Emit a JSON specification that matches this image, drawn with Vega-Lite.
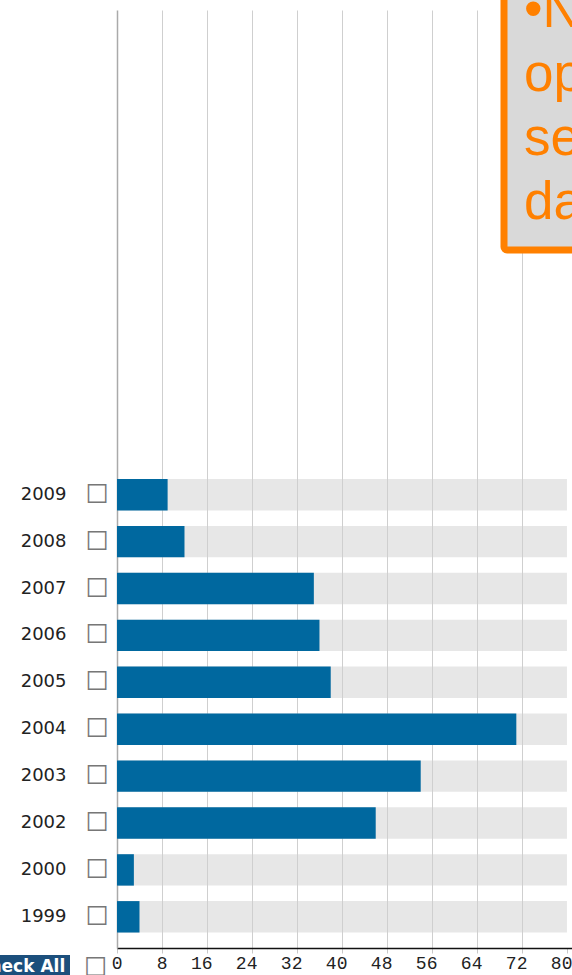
{
  "$schema": "https://vega.github.io/schema/vega-lite/v6.json",
  "autosize": {"type": "none"},
  "padding": {"left": 117, "top": 10, "right": 0, "bottom": 27},
  "width": 455,
  "height": 938,
  "background": "white",
  "config": {
    "view": {"stroke": null},
    "legend": {"strokeWidth": 7},
    "axisX": {
      "grid": true,
      "gridColor": "#cfcfcf",
      "domainColor": "#111111", "domainWidth": 1.5,
      "tickColor": "#c8c8c8", "tickSize": 5,
      "labelFont": "Liberation Mono", "labelFontSize": 18, "labelColor": "#222222", "labelPadding": 1, "labelFlush": false, "labelOverlap": false, "labelAlign": "right", "labelOffset": 5,
      "titleFont": "DejaVu Sans", "titleFontSize": 26, "titleFontWeight": "normal", "titleColor": "#777777", "titleX": -22, "titleY": 19, "titleAlign": "center", "titleBaseline": "middle"
    }
  },
  "data": {
    "values": [
      {"year": "2009", "value": 9},
      {"year": "2008", "value": 12},
      {"year": "2007", "value": 35},
      {"year": "2006", "value": 36},
      {"year": "2005", "value": 38},
      {"year": "2004", "value": 71},
      {"year": "2003", "value": 54},
      {"year": "2002", "value": 46},
      {"year": "2000", "value": 3},
      {"year": "1999", "value": 4}
    ]
  },
  "layer": [
    {
      "mark": {"type": "bar", "opacity": 0.5},
      "encoding": {
        "x": {"datum": 80, "type": "quantitative", "scale": {"domain": [0, 80.9], "nice": false, "zero": true},
          "axis": {"values": [0, 8, 16, 24, 32, 40, 48, 56, 64, 72, 80], "title": "☐", "gridColor": {"condition": {"test": "datum.value >= 80 || datum.value <= 0", "value": "transparent"}, "value": "#cfcfcf"}}},
        "y": {
          "field": "year", "type": "nominal",
          "scale": {"domain": [" ", "  ", "   ", "    ", "     ", "      ", "       ", "        ", "         ", "          ", "2009", "2008", "2007", "2006", "2005", "2004", "2003", "2002", "2000", "1999"], "paddingInner": 0.33, "paddingOuter": 0.165, "align": 0},
          "axis": {"title": null, "orient": "left", "domain": true, "domainColor": "#aaaaaa", "domainWidth": 1.5, "ticks": false, "tickSize": 0, "labelPadding": 51, "labelFont": "DejaVu Sans", "labelFontSize": 18, "labelColor": "#222222", "grid": false}
        },
        "fill": {
          "datum": "Check All",
          "scale": {"range": ["#cfcfcf"]},
          "legend": {"title": "Check All", "titleFont": "DejaVu Sans", "titleFontWeight": "bold", "titleFontSize": 17, "titleColor": "white", "titleAnchor": "start", "titleAlign": "left", "titleBaseline": "top", "titlePadding": 0,
            "orient": "none", "legendX": -144, "legendY": 945, "fillColor": "#1c4f7c", "padding": 4,
            "labelExpr": "''", "labelFontSize": 1, "labelOpacity": 0, "symbolOpacity": 0, "symbolSize": 1, "symbolStrokeWidth": 0}
        },
        "strokeDash": {
          "datum": "•N",
          "legend": {"title": ["•N", "op", "se", "da"], "titleFont": "Liberation Sans", "titleFontWeight": "normal", "titleFontSize": 53, "titleLineHeight": 64, "titleColor": "#ff8000", "titleAnchor": "start", "titleAlign": "left", "titleBaseline": "top", "titlePadding": -27, "titleLimit": 0,
            "orient": "none", "legendX": 387, "legendY": -45, "fillColor": "#d9d9d9", "strokeColor": "#ff8000", "cornerRadius": 3, "padding": 20,
            "labelExpr": "''", "labelFontSize": 1, "labelOpacity": 0, "symbolOpacity": 0, "symbolSize": 1, "symbolStrokeWidth": 0}
        }
      }
    },
    {
      "mark": {"type": "bar", "color": "#00689f"},
      "encoding": {
        "x": {
          "field": "value", "type": "quantitative",
          "axis": {"values": [0, 8, 16, 24, 32, 40, 48, 56, 64, 72, 80], "title": "☐", "gridColor": {"condition": {"test": "datum.value >= 80 || datum.value <= 0", "value": "transparent"}, "value": "#cfcfcf"}}
        },
        "y": {
          "field": "year", "type": "nominal",
          "axis": {"title": null, "orient": "left", "domain": false, "ticks": false, "tickSize": 0, "labelExpr": "length(trim(datum.label)) > 0 ? '☐' : ''", "labelPadding": 9, "labelFont": "DejaVu Sans", "labelFontSize": 26, "labelColor": "#777777", "grid": false}
        }
      }
    }
  ],
  "resolve": {"axis": {"y": "independent"}}
}
